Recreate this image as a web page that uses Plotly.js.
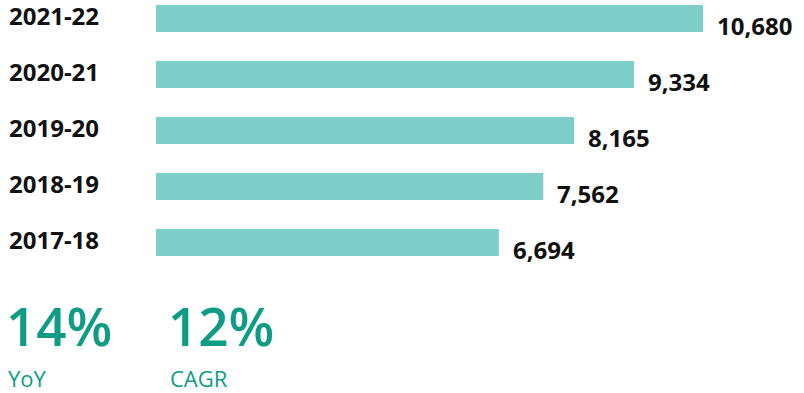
<!DOCTYPE html>
<html>
<head>
<meta charset="utf-8">
<script src="https://cdn.plot.ly/plotly-3.0.1.min.js"></script>
<style>html,body{margin:0;padding:0;background:#fff;}#chart{width:804px;height:393px;}</style>
</head>
<body>
<div id="chart"></div>
<script>
const categories = ["2017-18", "2018-19", "2019-20", "2020-21", "2021-22"];
const values = [6694, 7562, 8165, 9334, 10680];
const valueLabels = ["6,694", "7,562", "8,165", "9,334", "10,680"];
const statValues = ["14%", "12%"];
const statLabels = ["YoY", "CAGR"];

const W = 804, H = 393, L = 156, R = 0, T = 0, B = 113;
const pw = W - L - R, ph = H - T - B;
const px2paperX = px => (px - L) / pw;
const px2paperY = py => (ph - (py - T)) / ph;

const barColor = "#7DCDC8";
const tealText = "#0E9C85";
const labelFont = {family: "Open Sans, sans-serif", size: 24, color: "#111111", weight: 700};
const valueFont = {family: "Open Sans, sans-serif", size: 24, color: "#111111", weight: 700};

const idx = categories.map((c, i) => i);

const trace = {
  type: "bar",
  orientation: "h",
  x: values,
  y: idx,
  width: 0.48,
  marker: {color: barColor},
  hoverinfo: "skip"
};

const annotations = [];
categories.forEach((c, i) => {
  annotations.push({
    xref: "paper", yref: "y", x: px2paperX(7), y: i,
    text: c, showarrow: false, xanchor: "left", yanchor: "middle",
    yshift: 3, font: labelFont
  });
  annotations.push({
    xref: "x", yref: "y", x: values[i], y: i,
    text: valueLabels[i], showarrow: false, xanchor: "left", yanchor: "middle",
    xshift: 12, yshift: -7, font: valueFont
  });
});
const statX = [8, 170];
statValues.forEach((s, k) => {
  annotations.push({
    xref: "paper", yref: "paper", x: px2paperX(statX[k] - 4), y: px2paperY(325),
    text: s, showarrow: false, xanchor: "left", yanchor: "middle",
    font: {family: "Open Sans, sans-serif", size: 53, color: tealText, weight: 600}
  });
  annotations.push({
    xref: "paper", yref: "paper", x: px2paperX(statX[k] - 2), y: px2paperY(378),
    text: statLabels[k], showarrow: false, xanchor: "left", yanchor: "middle",
    font: {family: "Open Sans, sans-serif", size: 22, color: tealText, weight: 500}
  });
});

const xMaxVal = pw / (547 / 10680);
const yTop = 4 + 18.5 / 56;
const yBottom = 0 - (ph - 242.5) / 56;

const layout = {
  width: W, height: H,
  margin: {l: L, r: R, t: T, b: B, pad: 0},
  paper_bgcolor: "#ffffff", plot_bgcolor: "#ffffff",
  showlegend: false,
  xaxis: {range: [0, xMaxVal], visible: false, fixedrange: true},
  yaxis: {range: [yBottom, yTop], visible: false, fixedrange: true},
  annotations: annotations
};

Plotly.newPlot("chart", [trace], layout, {displayModeBar: false, staticPlot: true});
</script>
</body>
</html>
